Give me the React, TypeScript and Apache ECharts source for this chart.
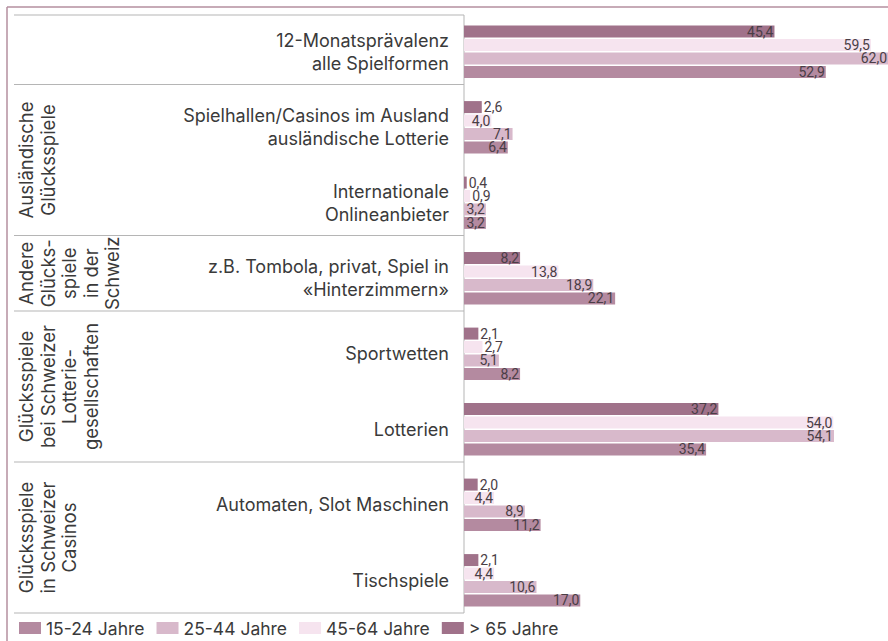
import React, { useEffect, useRef } from "react";
import * as echarts from "echarts";

const categories = [
  "12-Monatsprävalenz\nalle Spielformen",
  "Spielhallen/Casinos im Ausland\nausländische Lotterie",
  "Internationale\nOnlineanbieter",
  "z.B. Tombola, privat, Spiel in\n«Hinterzimmern»",
  "Sportwetten",
  "Lotterien",
  "Automaten, Slot Maschinen",
  "Tischspiele",
];

const seriesNames = ["15-24 Jahre", "25-44 Jahre", "45-64 Jahre", "> 65 Jahre"];
const age15_24 = [52.9, 6.4, 3.2, 22.1, 8.2, 35.4, 11.2, 17.0];
const age25_44 = [62.0, 7.1, 3.2, 18.9, 5.1, 54.1, 8.9, 10.6];
const age45_64 = [59.5, 4.0, 0.9, 13.8, 2.7, 54.0, 4.4, 4.4];
const age65plus = [45.4, 2.6, 0.4, 8.2, 2.1, 37.2, 2.0, 2.1];

const groupLabels = [
  "Ausländische\nGlücksspiele",
  "Andere\nGlücks-\nspiele\nin der\nSchweiz",
  "Glücksspiele\nbei Schweizer\nLotterie-\ngesellschaften",
  "Glücksspiele\nin Schweizer\nCasinos",
];
// category index ranges [start, end) for each group
const groupStarts = [1, 3, 4, 6];
const groupEnds = [3, 4, 6, 8];

const colors: Record<string, string> = {
  "15-24 Jahre": "#b48aa0",
  "25-44 Jahre": "#d8b9cb",
  "45-64 Jahre": "#f6e4ef",
  "> 65 Jahre": "#a0728a",
};

export default function App() {
  const ref = useRef<HTMLDivElement>(null);
  useEffect(() => {
    if (!ref.current) return;
    const chart = echarts.init(ref.current, null, { renderer: "svg" });
    const W = 888;
    const H = 641;
    const gridLeft = 464;
    const gridTop = 14;
    const gridHeight = 604;
    const band = gridHeight / categories.length;
    const xMax = 62;
    const pxPerUnit = 6.92;
    const font = "Inter, Roboto, 'Liberation Sans', sans-serif";
    const numFont = "Roboto, 'Liberation Sans', sans-serif";
    const textColor = "#3a3a3a";

    const fmt = (v: number) => v.toFixed(1).replace(".", ",");
    const mkData = (arr: number[]) =>
      arr.map((v) => ({
        value: v,
        label: {
          position: v < 3 ? "right" : "insideRight",
          distance: v < 3 ? 2 : 1,
        },
      }));

    const order = [
      { name: "> 65 Jahre", data: age65plus },
      { name: "45-64 Jahre", data: age45_64 },
      { name: "25-44 Jahre", data: age25_44 },
      { name: "15-24 Jahre", data: age15_24 },
    ];

    const series = order.map((s) => ({
      name: s.name,
      type: "bar",
      data: mkData(s.data),
      barWidth: 12,
      barGap: "12%",
      itemStyle: { color: colors[s.name] },
      label: {
        show: true,
        formatter: (p: any) => fmt(p.value),
        fontSize: 14,
        fontFamily: numFont,
        color: "#4a3e46",
      },
    }));

    const lineStyle = { stroke: "#b5b5b5", lineWidth: 1 };
    const graphics: any[] = [];
    // outer frame
    graphics.push({ type: "line", shape: { x1: 7, y1: 7, x2: W, y2: 7 }, style: { stroke: "#b58f9f", lineWidth: 1.5 } });
    graphics.push({ type: "line", shape: { x1: 7, y1: 7, x2: 7, y2: H }, style: { stroke: "#b58f9f", lineWidth: 1.5 } });
    // inner separators
    const topLine = gridTop + 1;
    graphics.push({ type: "line", shape: { x1: 14, y1: topLine, x2: gridLeft, y2: topLine }, style: lineStyle });
    const seps = [1, 3, 4, 6, 8].map((k) => gridTop + k * band - 5);
    seps.forEach((y) => {
      graphics.push({ type: "line", shape: { x1: 14, y1: y, x2: gridLeft, y2: y }, style: lineStyle });
    });
    graphics.push({ type: "line", shape: { x1: gridLeft, y1: topLine, x2: gridLeft, y2: seps[seps.length - 1] }, style: lineStyle });

    // rotated group labels
    const lh = 21.5;
    groupLabels.forEach((t, i) => {
      const n = t.split("\n").length;
      const y0 = gridTop + groupStarts[i] * band - 5;
      const y1 = gridTop + groupEnds[i] * band - 5;
      graphics.push({
        type: "text",
        x: 15.5 + (n * lh) / 2,
        y: (y0 + y1) / 2,
        rotation: Math.PI / 2,
        style: {
          text: t,
          fontSize: 18.5,
          fontFamily: font,
          fill: textColor,
          align: "center",
          verticalAlign: "middle",
          lineHeight: lh,
        },
      });
    });

    chart.setOption({
      animation: false,
      backgroundColor: "#ffffff",
      grid: { left: gridLeft, top: gridTop, height: gridHeight, width: xMax * pxPerUnit, containLabel: false },
      xAxis: { type: "value", min: 0, max: xMax, show: false },
      yAxis: {
        type: "category",
        data: categories,
        inverse: true,
        axisLine: { show: false },
        axisTick: { show: false },
        axisLabel: {
          margin: 15,
          fontSize: 18,
          lineHeight: 23,
          color: textColor,
          fontFamily: font,
          align: "right",
        },
      },
      legend: {
        data: seriesNames,
        left: 14,
        top: 614,
        itemWidth: 22,
        itemHeight: 12,
        itemGap: 12,
        icon: "rect",
        textStyle: { fontSize: 17.5, color: textColor, fontFamily: font },
        selectedMode: false,
      },
      graphic: graphics,
      series,
    });
    return () => chart.dispose();
  }, []);
  return (
    <div
      ref={ref}
      style={{ position: "absolute", left: 0, top: 0, width: 888, height: 641, background: "#fff" }}
    />
  );
}
